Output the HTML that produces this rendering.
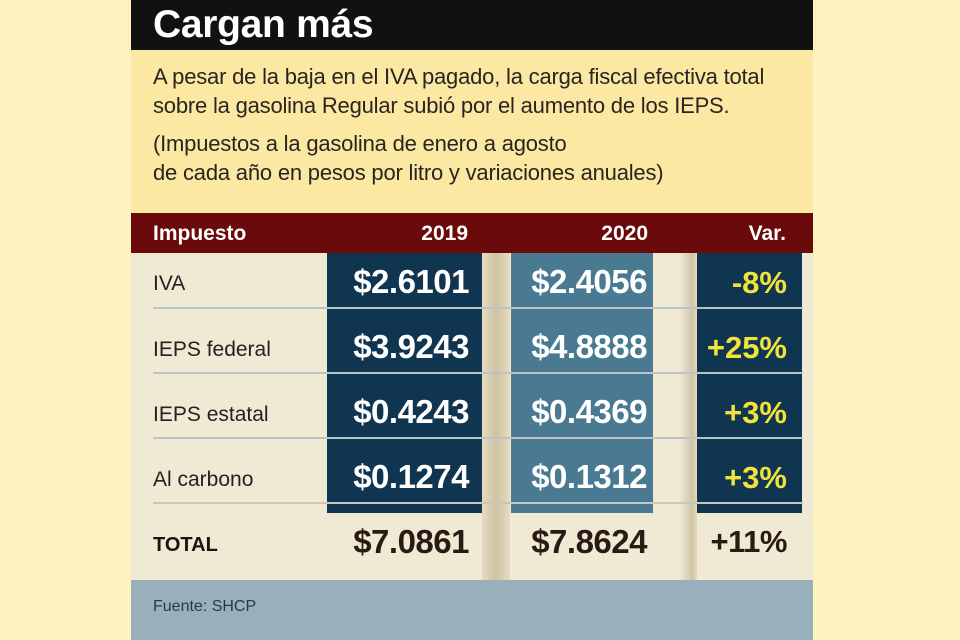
<!DOCTYPE html>
<html><head><meta charset="utf-8"><style>
*{margin:0;padding:0;box-sizing:border-box}
body{width:960px;height:640px;background:#fdf2c0;position:relative;overflow:hidden;font-family:"Liberation Sans",sans-serif}
.a{position:absolute}
.panel{left:131px;top:0;width:682px;height:640px;background:#f0e9d3}
.title{left:131px;top:0;width:682px;height:50px;background:#111;color:#fff;font-weight:bold;font-size:39px;padding-left:22px;line-height:50px;letter-spacing:-0.3px}
.intro{left:131px;top:50px;width:682px;height:163px;background:#fbe8a2;color:#2a2420;font-size:22px;line-height:29px;padding-left:22px;letter-spacing:-0.2px}
.hdr{left:131px;top:213px;width:682px;height:40px;background:#6b0a0a;color:#fff;font-weight:bold;font-size:21px}
.hdr span{position:absolute;top:9px}
.col{top:253px;height:260px}
.lbl{left:153px;font-size:21px;color:#222}
.v{color:#fff;font-weight:bold;font-size:33px;text-align:right;letter-spacing:-0.5px}
.y{color:#f2e33a;font-weight:bold;font-size:31px;text-align:right}
.line{left:153px;width:650px;height:2px;background:#b9c4c8}
.t{color:#2a1a14;font-weight:bold;font-size:33px;text-align:right;letter-spacing:-0.5px}
</style></head><body>
<div class="a panel"></div>
<div class="a title">Cargan más</div>
<div class="a intro"><div style="margin-top:12px">A pesar de la baja en el IVA pagado, la carga fiscal efectiva total<br>sobre la gasolina Regular subió por el aumento de los IEPS.</div><div style="margin-top:9px">(Impuestos a la gasolina de enero a agosto<br>de cada año en pesos por litro y variaciones anuales)</div></div>
<div class="a hdr">
<span style="left:22px">Impuesto</span>
<span style="right:345px">2019</span>
<span style="right:165px">2020</span>
<span style="right:27px">Var.</span>
</div>
<div class="a" style="left:482px;top:253px;width:28px;height:327px;background:linear-gradient(90deg,#e6dcc0,#cfc3a4 50%,#e6dcc0)"></div>
<div class="a" style="left:653px;top:253px;width:44px;height:327px;background:linear-gradient(90deg,#f0e9d3,#f0e9d3 60%,#cfc3a4 90%,#e6dcc0)"></div>
<div class="a col" style="left:327px;width:155px;background:#0f3550"></div>
<div class="a col" style="left:511px;width:142px;background:#4a7a91"></div>
<div class="a col" style="left:697px;width:105px;background:#0f3550"></div>
<div class="a line" style="top:307px"></div>
<div class="a line" style="top:372px"></div>
<div class="a line" style="top:437px"></div>
<div class="a line" style="top:502px;background:#c9c6bb"></div>

<div class="a lbl" style="top:272px">IVA</div>
<div class="a lbl" style="top:338px">IEPS federal</div>
<div class="a lbl" style="top:403px">IEPS estatal</div>
<div class="a lbl" style="top:468px">Al carbono</div>
<div class="a lbl" style="top:534px;font-weight:bold;font-size:20px;color:#1a1410">TOTAL</div>

<div class="a v" style="left:327px;width:142px;top:263px">$2.6101</div>
<div class="a v" style="left:327px;width:142px;top:328px">$3.9243</div>
<div class="a v" style="left:327px;width:142px;top:393px">$0.4243</div>
<div class="a v" style="left:327px;width:142px;top:458px">$0.1274</div>
<div class="a t" style="left:327px;width:142px;top:523px">$7.0861</div>

<div class="a v" style="left:505px;width:142px;top:263px">$2.4056</div>
<div class="a v" style="left:505px;width:142px;top:328px">$4.8888</div>
<div class="a v" style="left:505px;width:142px;top:393px">$0.4369</div>
<div class="a v" style="left:505px;width:142px;top:458px">$0.1312</div>
<div class="a t" style="left:505px;width:142px;top:523px">$7.8624</div>

<div class="a y" style="left:690px;width:97px;top:265px">-8%</div>
<div class="a y" style="left:690px;width:97px;top:330px">+25%</div>
<div class="a y" style="left:690px;width:97px;top:395px">+3%</div>
<div class="a y" style="left:690px;width:97px;top:460px">+3%</div>
<div class="a t" style="left:690px;width:97px;top:524px;font-size:31px">+11%</div>

<div class="a" style="left:131px;top:580px;width:682px;height:60px;background:#98b0bb"></div>
<div class="a" style="left:153px;top:598px;font-size:16px;color:#2a3a44">Fuente: SHCP</div>
</body></html>
